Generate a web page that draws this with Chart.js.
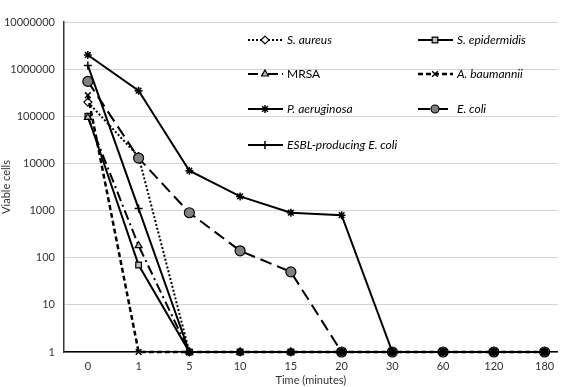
<!DOCTYPE html>
<html>
<head>
<meta charset="utf-8">
<script src="https://cdn.jsdelivr.net/npm/chart.js@4.4.1/dist/chart.umd.min.js"></script>
<style>
  html, body { margin: 0; padding: 0; background: #fff; }
</style>
</head>
<body>
<canvas id="killChart" width="564" height="387"></canvas>
<script>
const timeLabels = ['0', '1', '5', '10', '15', '20', '30', '60', '120', '180'];
const yTicks = [1, 10, 100, 1000, 10000, 100000, 1000000, 10000000];

const sAureus      = [200000, 14000, 1, 1, 1, 1, 1, 1, 1, 1];
const sEpidermidis = [100000, 70, 1, 1, 1, 1, 1, 1, 1, 1];
const mrsa         = [95000, 180, 1, 1, 1, 1, 1, 1, 1, 1];
const aBaumannii   = [280000, 1, 1, 1, 1, 1, 1, 1, 1, 1];
const pAeruginosa  = [2000000, 350000, 7000, 2000, 900, 800, 1, 1, 1, 1];
const eColi        = [550000, 13000, 900, 140, 50, 1, 1, 1, 1, 1];
const esblEColi    = [1200000, 1100, 1, 1, 1, 1, 1, 1, 1, 1];

const FONT = 'Lato';

function pts(arr) {
  return arr.map((v, i) => ({ x: i, y: v }));
}

function series(label, values, style, italic) {
  return Object.assign({
    label: label,
    data: pts(values),
    borderColor: '#000',
    pointBorderColor: '#000',
    borderWidth: 2,
    pointRadius: 4,
    pointBorderWidth: 1.2,
    tension: 0,
    clip: false,
    italic: italic
  }, style);
}

// lower order is drawn on top: crosses over the filled markers, like the original
const datasets = [
  series('S. aureus', sAureus, { order: 6, borderDash: [2, 2], pointStyle: 'rectRot', pointBackgroundColor: '#fff' }, true),
  series('S. epidermidis', sEpidermidis, { order: 4, pointStyle: 'rect', pointBackgroundColor: '#bfbfbf' }, true),
  series('MRSA', mrsa, { order: 3, borderDash: [10, 4, 2, 4], pointStyle: 'triangle', pointBackgroundColor: '#bfbfbf' }, false),
  series('A. baumannii', aBaumannii, { order: 2, borderDash: [5, 3], borderWidth: 2.5, pointStyle: 'crossRot', pointBorderWidth: 1.5 }, true),
  series('P. aeruginosa', pAeruginosa, { order: 1, pointStyle: 'star', pointBorderWidth: 1.5 }, true),
  series('E. coli', eColi, { order: 5, borderDash: [12, 6], pointStyle: 'circle', pointRadius: 5, pointBackgroundColor: '#808080' }, true),
  series('ESBL-producing E. coli', esblEColi, { order: 0, pointStyle: 'cross', pointBorderWidth: 1.5 }, true)
];

// legend drawn inside the plot, two columns, no box
const legendSlots = [
  [248, 40], [418, 40],
  [248, 74], [418, 74],
  [248, 109], [418, 109],
  [248, 145]
];

const insideLegend = {
  id: 'insideLegend',
  afterDraw(chart) {
    const ctx = chart.ctx;
    chart.data.datasets.forEach((ds, i) => {
      const [x, y] = legendSlots[i];
      ctx.save();
      ctx.strokeStyle = '#000';
      ctx.lineWidth = ds.borderWidth;
      ctx.setLineDash(ds.borderDash || []);
      ctx.beginPath();
      ctx.moveTo(x, y);
      ctx.lineTo(x + 35, y);
      ctx.stroke();
      ctx.setLineDash([]);
      ctx.fillStyle = ds.pointBackgroundColor || '#000';
      ctx.lineWidth = ds.pointBorderWidth;
      Chart.helpers.drawPoint(ctx, { pointStyle: ds.pointStyle, radius: 4, rotation: 0, borderWidth: ds.pointBorderWidth }, x + 17, y);
      ctx.fillStyle = '#000';
      ctx.font = (ds.italic ? 'italic ' : '') + '12px ' + FONT;
      ctx.textBaseline = 'middle';
      ctx.fillText(ds.label, x + 39, y);
      ctx.restore();
    });
  }
};

new Chart(document.getElementById('killChart'), {
  type: 'line',
  data: { datasets: datasets },
  options: {
    responsive: false,
    animation: false,
    layout: { padding: { top: 22, right: 0, left: 0, bottom: 0 } },
    plugins: {
      legend: { display: false },
      tooltip: { enabled: false }
    },
    scales: {
      x: {
        type: 'linear',
        min: -0.47,
        max: 9.26,
        afterBuildTicks(scale) {
          scale.ticks = timeLabels.map((t, i) => ({ value: i }));
        },
        afterFit(scale) { scale.height = 35; },
        grid: { display: false, drawTicks: false },
        border: { display: true, color: '#000', width: 1.5 },
        ticks: {
          padding: 8,
          color: '#333',
          font: { family: FONT, size: 11 },
          callback: (v) => timeLabels[v]
        },
        title: {
          display: true,
          text: 'Time (minutes)',
          color: '#333',
          font: { family: FONT, size: 11 },
          padding: { top: 2, bottom: 0 }
        }
      },
      y: {
        type: 'logarithmic',
        min: 1,
        max: 10000000,
        afterBuildTicks(scale) {
          scale.ticks = yTicks.map(v => ({ value: v }));
        },
        afterFit(scale) { scale.width = 64; },
        grid: { color: '#d4d4d4', lineWidth: 1, drawTicks: false },
        border: { display: true, color: '#333', width: 1.5 },
        ticks: {
          padding: 9,
          color: '#333',
          font: { family: FONT, size: 11 },
          callback: (v) => String(v)
        },
        title: {
          display: true,
          text: 'Viable cells',
          color: '#333',
          font: { family: FONT, size: 11 },
          padding: { top: 0, bottom: 2 }
        }
      }
    }
  },
  plugins: [insideLegend]
});
</script>
</body>
</html>
